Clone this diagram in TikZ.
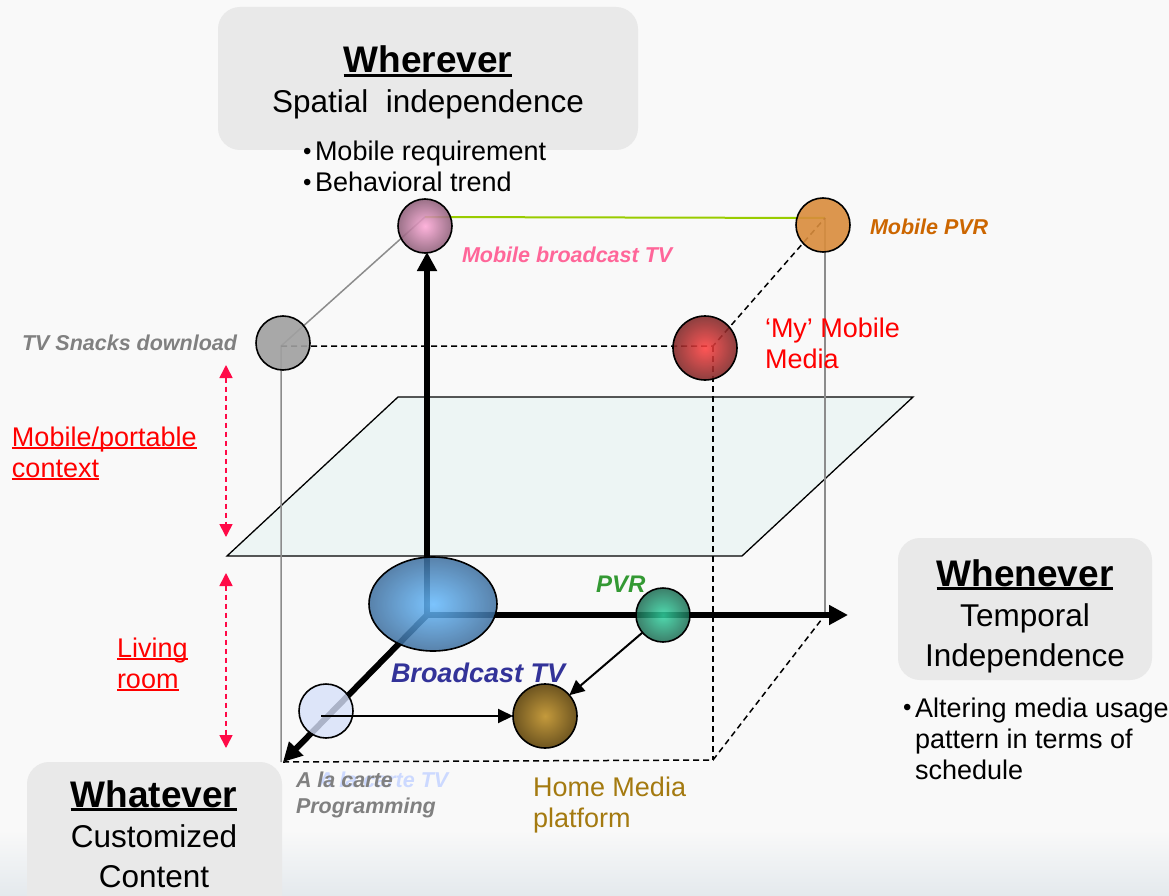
\documentclass[tikz,border=0pt]{standalone}
\usepackage{fontspec}
\setmainfont{Liberation Sans}
\usetikzlibrary{arrows.meta,shapes.geometric,calc}
\definecolor{bgc}{HTML}{F9F9F9}
\definecolor{bgb}{HTML}{E4E9ED}
\definecolor{boxg}{HTML}{E9E9E9}
\definecolor{planef}{HTML}{EDF5F4}
\definecolor{cubegray}{HTML}{8C8C8C}
\definecolor{limeg}{HTML}{99CC00}
\definecolor{ctxred}{HTML}{FF0A47}
\definecolor{lblred}{HTML}{FF0000}
\definecolor{snackgray}{HTML}{808080}
\definecolor{mbpink}{HTML}{FF6699}
\definecolor{mpvr}{HTML}{CC6600}
\definecolor{pvrgreen}{HTML}{339933}
\definecolor{btvblue}{HTML}{333399}
\definecolor{alcblue}{HTML}{CCD9FF}
\definecolor{homegold}{HTML}{A47A10}
% sphere colours
\definecolor{snackf}{HTML}{A0A0A0}
\definecolor{pinkin}{HTML}{FFAAD8}
\definecolor{pinkout}{HTML}{8E5F79}
\definecolor{orangef}{HTML}{D98C3C}
\definecolor{redin}{HTML}{FF4040}
\definecolor{redout}{HTML}{7F2626}
\definecolor{bluein}{HTML}{66BBFF}
\definecolor{blueout}{HTML}{3D6E9E}
\definecolor{tealin}{HTML}{33D6A3}
\definecolor{tealout}{HTML}{1C6B52}
\definecolor{alcf}{HTML}{D6E0FA}
\definecolor{goldin}{HTML}{C49A3C}
\definecolor{goldout}{HTML}{6E5520}
\newcommand\ulx[1]{\leavevmode\setbox0\hbox{#1}\rlap{\rule[-0.12em]{\wd0}{0.08em}}\box0}
\newcommand\bul{\makebox[12pt][l]{\fontsize{24}{24}\selectfont\raisebox{0.06em}{•}}}
\begin{document}
\begin{tikzpicture}[x=1pt,y=-1pt,
  every node/.style={inner sep=0pt, outer sep=0pt},
  headbox/.style={fill=boxg, rounded corners=22pt, anchor=north west},
  lbl/.style={anchor=base west, align=left},
  sm/.style={font=\fontsize{21.5}{26}\selectfont\bfseries\itshape},
  md/.style={font=\fontsize{27}{31}\selectfont},
  hd/.style={font=\fontsize{31.5}{40}\selectfont, anchor=base, align=center},
  orb/.style={circle, draw=black, line width=1.6pt, minimum size=#1},
  axis/.style={line width=6pt, -{Triangle[length=19pt,width=19pt]}},
  cubeline/.style={draw=cubegray, line width=1.5pt},
  hidden/.style={black, line width=1.5pt, dash pattern=on 6pt off 4pt},
  ctx/.style={ctxred, line width=1.6pt, dash pattern=on 5pt off 4pt, {Triangle[length=13pt,width=13pt]}-{Triangle[length=13pt,width=13pt]}},
  thinarrow/.style={black, line width=2pt, -{Triangle[length=15pt,width=14pt]}}
]
\fill[bgc] (0,0) rectangle (1169,896);
\shade[top color=bgc, bottom color=bgb] (0,830) rectangle (1169,896);
\useasboundingbox (0,0) rectangle (1169,896);

% heading boxes
\node[headbox, minimum width=420pt, minimum height=143pt] (wherebox) at (218,7) {};
\node[headbox, minimum width=254pt, minimum height=142pt] (whenbox) at (898,538) {};
\node[headbox, minimum width=255pt, minimum height=170pt] (whatbox) at (27,762) {};

% (base anchor of a multi-line node = baseline of its last line)
\node[hd] (wheretxt) at (428,113) {{\fontsize{37}{40}\selectfont\bfseries\ulx{Wherever}}\\Spatial\ \ independence};
\node[hd] (whentxt) at (1025,666) {{\fontsize{37}{40}\selectfont\bfseries\ulx{Whenever}}\\Temporal\\Independence};
\node[hd] (whattxt) at (154,887) {{\fontsize{37}{40}\selectfont\bfseries\ulx{Whatever}}\\Customized\\Content};

\node[lbl, md] (wherebul) at (303,192) {\bul Mobile requirement\\\bul Behavioral trend};
\node[lbl, md] (whenbul) at (903,779) {\bul Altering media usage\\\hspace*{12pt}pattern in terms of\\\hspace*{12pt}schedule};

% plane
\draw[fill=planef, line width=1.3pt] (398,397) -- (913,397) -- (742,556) -- (227,556) -- cycle;

% cube corners
\coordinate (O) at (427,615);
\coordinate (cMB) at (425,217);
\coordinate (cMP) at (825,218);
\coordinate (cTS) at (281,346);
\coordinate (cMM) at (713,346);
\coordinate (cHB) at (281,762);
\coordinate (cHR) at (713,760);
\coordinate (cTR) at (825,615);
\coordinate (tipUp) at (427,252);
\coordinate (tipRight) at (848,615);
\coordinate (tipDiag) at (283,762);

\draw[cubeline] (cMB) -- (cTS) -- (cHB);
\draw[cubeline] (cMP) -- (cTR);
\draw[limeg, line width=2pt] (cMB) -- (cMP);
\draw[hidden] (cTS) -- (cMM) -- (cMP);
\draw[hidden] (cMM) -- (cHR);
\draw[hidden] (tipDiag) -- (cHR) -- (cTR);

% axes
\draw[axis] (O) -- (tipUp);
\draw[axis] (O) -- (tipRight);
\draw[axis] (O) -- (tipDiag);

% context arrows
\coordinate (m1) at (226,365);
\coordinate (m2) at (226,537);
\coordinate (l1) at (226,573);
\coordinate (l2) at (226,748);
\draw[ctx] (m1) -- (m2);
\draw[ctx] (l1) -- (l2);

% spheres
\node[orb=54pt, fill=snackf, fill opacity=0.9] (snack) at (283,343) {};
\node[orb=54pt, shading=radial, inner color=pinkin, outer color=pinkout, fill opacity=0.88] (mbtv) at (425,226) {};
\node[orb=54pt, fill=orangef, fill opacity=0.9] (mpvrb) at (823,225) {};
\node[orb=64pt, shading=radial, inner color=redin, outer color=redout, fill opacity=0.88] (mymm) at (705,348) {};
\node[ellipse, draw=black, line width=1.6pt, minimum width=128pt, minimum height=94pt, shading=radial, inner color=bluein, outer color=blueout, fill opacity=0.85] (btv) at (433,604) {};
\node[orb=54pt, shading=radial, inner color=tealin, outer color=tealout, fill opacity=0.85] (pvr) at (663,615) {};
\node[orb=54pt, fill=alcf, fill opacity=0.8] (alc) at (326,711) {};
\node[orb=64pt, shading=radial, inner color=goldin, outer color=goldout] (home) at (545,716) {};

\draw[thinarrow] ([xshift=-5pt,yshift=-5pt]alc.center) -- (home.west);
\draw[thinarrow] (pvr) -- (home);

% labels
\node[lbl, sm, text=snackgray] (lsnack) at (22,350) {TV Snacks download};
\node[lbl, sm, text=mbpink] (lmbtv) at (462,262) {Mobile broadcast TV};
\node[lbl, sm, text=mpvr] (lmpvr) at (870,234) {Mobile PVR};
\node[lbl, md, text=lblred] (lmymm) at (765,368) {‘My’ Mobile\\Media};
\node[lbl, font=\fontsize{24}{28}\selectfont\bfseries\itshape, text=pvrgreen] (lpvr) at (596,592) {PVR};
\node[lbl, font=\fontsize{27}{31}\selectfont\bfseries\itshape, text=btvblue] (lbtv) at (391,682) {Broadcast TV};
\node[lbl, sm, text=alcblue] (lalctv) at (318,787) {A la carte TV};
\node[lbl, sm, text=snackgray] (lalc) at (296,813) {A la carte\\Programming};
\node[lbl, md, text=homegold] (lhome) at (533,827) {Home Media\\platform};
\node[lbl, md, text=lblred] (lmob) at (12,477) {\ulx{Mobile/portable}\\\ulx{context}};
\node[lbl, md, text=lblred] (lliv) at (117,688) {\ulx{Living}\\\ulx{room}};
\end{tikzpicture}
\end{document}
